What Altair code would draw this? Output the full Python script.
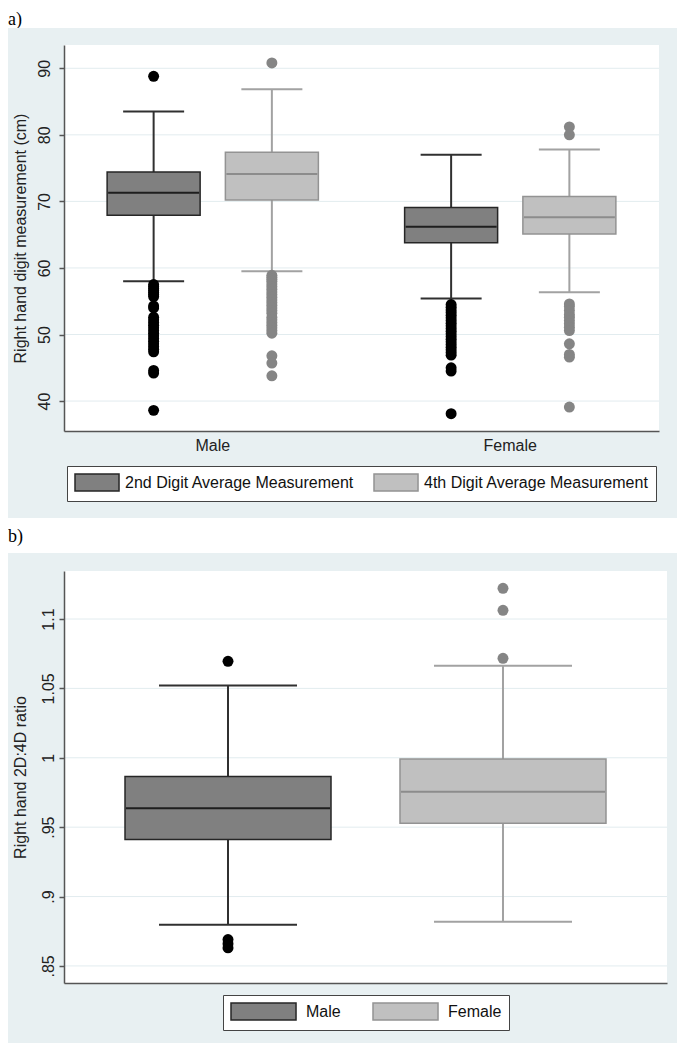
import altair as alt
import pandas as pd

# ---------------- data ----------------
sex_order = ["Male", "Female"]
digit_order = ["2nd Digit Average Measurement", "4th Digit Average Measurement"]

# panel a) summary per box
a_sex = ["Male", "Male", "Female", "Female"]
a_digit = [digit_order[0], digit_order[1], digit_order[0], digit_order[1]]
a_lower = [58.0, 59.5, 55.4, 56.35]
a_q1 = [67.9, 70.2, 63.8, 65.1]
a_median = [71.3, 74.1, 66.2, 67.6]
a_q3 = [74.4, 77.4, 69.1, 70.75]
a_upper = [83.5, 86.85, 77.0, 77.8]

a_out_male_2nd = [88.8, 57.5, 57.2, 56.9, 56.6, 56.3, 56.0, 55.7, 54.3, 54.0, 52.6, 52.2,
                  51.8, 51.4, 51.0, 50.6, 50.2, 49.8, 49.4, 49.0, 48.6, 48.2, 47.8, 47.4,
                  44.6, 44.2, 38.6]
a_out_male_4th = [90.8, 58.9, 58.6, 58.3, 58.0, 57.6, 57.2, 56.8, 56.4, 56.0, 55.6, 55.2,
                  54.8, 54.4, 54.0, 53.6, 53.2, 52.6, 52.2, 51.8, 51.4, 51.0, 50.6, 50.2,
                  46.8, 45.7, 43.8]
a_out_female_2nd = [54.5, 54.1, 53.7, 53.3, 52.9, 52.5, 52.1, 51.7, 51.3, 50.9, 50.5, 50.1,
                    49.7, 49.3, 48.9, 48.5, 48.1, 47.7, 47.3, 46.9, 45.0, 44.5, 38.1]
a_out_female_4th = [81.2, 80.0, 54.6, 54.2, 53.6, 53.0, 52.6, 52.1, 51.6, 51.1, 50.6,
                    48.6, 47.0, 46.6, 39.1]
a_yticks = [40, 50, 60, 70, 80, 90]
a_ydomain = [35.5, 93.5]

# panel b) summary per box
b_sex = ["Male", "Female"]
b_lower = [0.8796, 0.8818]
b_q1 = [0.9412, 0.9529]
b_median = [0.9637, 0.9755]
b_q3 = [0.9865, 0.9991]
b_upper = [1.052, 1.0664]
b_out_male = [1.0695, 0.869, 0.866, 0.863]
b_out_female = [1.1221, 1.1063, 1.0717]
b_yticks = [0.85, 0.9, 0.95, 1.0, 1.05, 1.1]
b_ydomain = [0.8377, 1.1346]

panel_labels = ["a)", "b)"]

# ---------------- tables ----------------
summary_a = pd.DataFrame({"sex": a_sex, "digit": a_digit, "lower": a_lower, "q1": a_q1,
                          "median": a_median, "q3": a_q3, "upper": a_upper})
rows = []
for s, d, vals in [("Male", digit_order[0], a_out_male_2nd), ("Male", digit_order[1], a_out_male_4th),
                   ("Female", digit_order[0], a_out_female_2nd), ("Female", digit_order[1], a_out_female_4th)]:
    for v in vals:
        rows.append({"sex": s, "digit": d, "value": v})
out_a = pd.DataFrame(rows)

summary_b = pd.DataFrame({"sex": b_sex, "lower": b_lower, "q1": b_q1, "median": b_median,
                          "q3": b_q3, "upper": b_upper})
rows = []
for s, vals in [("Male", b_out_male), ("Female", b_out_female)]:
    for v in vals:
        rows.append({"sex": s, "value": v})
out_b = pd.DataFrame(rows)

# ---------------- styles ----------------
FONT = "Liberation Sans"
BG = "#E8F0F2"
GRID = "#E2ECEF"
AXIS = "#555555"
TXT = "#222222"
DARK = {"fill": "#808080", "line": "#303030", "med": "#1e1e1e", "pt": "#000000", "edge": "#262626"}
LIGHT = {"fill": "#C0C0C0", "line": "#a2a2a2", "med": "#8c8c8c", "pt": "#858585", "edge": "#939393"}
one = pd.DataFrame({"k": [0]})


def make_panel(summary, outliers, series_field, series_order, use_offset, W, H, ydom, yticks,
               ytitle, label_expr, label_pad, title_pad, x_outer, sub_outer, box_w, cap_w,
               show_x_labels, legend, bg, label, label_y):
    x_enc = alt.X("sex:N", sort=sex_order,
                  scale=alt.Scale(paddingInner=0, paddingOuter=x_outer),
                  axis=alt.Axis(title=None, labels=show_x_labels, ticks=False, labelAngle=0,
                                labelFontSize=16, labelColor=TXT, labelPadding=6,
                                domainColor=AXIS, domainWidth=1.5, grid=False, zindex=1))
    extra = {}
    if use_offset:
        extra["xOffset"] = alt.XOffset("digit:N", sort=digit_order,
                                       scale=alt.Scale(paddingInner=0, paddingOuter=sub_outer))
    y_axis = alt.Axis(title=ytitle, values=yticks, labelExpr=label_expr, grid=False,
                      labelAngle=270, labelAlign="center", labelBaseline="alphabetic",
                      labelPadding=label_pad, labelFontSize=16, labelColor=TXT,
                      labelOverlap=False, tickSize=5, tickColor=AXIS, tickWidth=1.5,
                      domainColor=AXIS, domainWidth=1.5, titleFontSize=16,
                      titleFontWeight="normal", titleColor=TXT, titlePadding=title_pad,
                      zindex=1)
    y_scale = alt.Scale(domain=ydom, nice=False, zero=False)

    def Y(f):
        return alt.Y(f"{f}:Q", scale=y_scale, axis=y_axis)

    layers = []
    # invisible copy of the panel label that only reserves head-room above it
    layers.append(alt.Chart(one).mark_text(
        text=label, font="Liberation Serif", fontSize=18, align="left", baseline="alphabetic",
        opacity=0).encode(x=alt.value(bg[0]), y=alt.value(label_y - 3)))
    layers.append(alt.Chart(one).mark_text(
        text=label, font="Liberation Serif", fontSize=18, align="left", baseline="alphabetic",
        color="#000000").encode(x=alt.value(bg[0]), y=alt.value(label_y)))
    layers.append(alt.Chart(one).mark_rect(color=BG).encode(
        x=alt.value(bg[0]), x2=alt.value(bg[1]), y=alt.value(bg[2]), y2=alt.value(bg[3])))
    layers.append(alt.Chart(one).mark_rect(color="white").encode(
        x=alt.value(0), x2=alt.value(W), y=alt.value(0), y2=alt.value(H)))
    layers.append(alt.Chart(pd.DataFrame({"tick": yticks})).mark_rule(
        color=GRID, strokeWidth=1).encode(y=Y("tick"), x=alt.value(0), x2=alt.value(W)))

    styles = [DARK, LIGHT]
    for s, st in zip(series_order, styles):
        base = alt.Chart(summary).transform_filter(alt.datum[series_field] == s)
        layers.append(base.mark_rule(color=st["line"], strokeWidth=2).encode(
            x=x_enc, **extra, y=Y("lower"), y2=alt.Y2("upper")))
        layers.append(base.mark_tick(color=st["line"], size=cap_w, thickness=2, opacity=1).encode(
            x=x_enc, **extra, y=Y("lower")))
        layers.append(base.mark_tick(color=st["line"], size=cap_w, thickness=2, opacity=1).encode(
            x=x_enc, **extra, y=Y("upper")))

    fills = [DARK["fill"], LIGHT["fill"]]
    edges = [DARK["edge"], LIGHT["edge"]]
    layers.append(alt.Chart(summary).mark_bar(width=box_w, strokeWidth=1.5, opacity=1).encode(
        x=x_enc, **extra, y=Y("q1"), y2=alt.Y2("q3"),
        fill=alt.Fill(f"{series_field}:N", sort=series_order,
                      scale=alt.Scale(domain=series_order, range=fills), legend=legend),
        stroke=alt.Stroke(f"{series_field}:N", sort=series_order,
                          scale=alt.Scale(domain=series_order, range=edges), legend=legend)))

    for s, st in zip(series_order, styles):
        base = alt.Chart(summary).transform_filter(alt.datum[series_field] == s)
        layers.append(base.mark_tick(color=st["med"], size=box_w - 2, thickness=2, opacity=1).encode(
            x=x_enc, **extra, y=Y("median")))
        pts = alt.Chart(outliers).transform_filter(alt.datum[series_field] == s)
        layers.append(pts.mark_circle(color=st["pt"], size=120, opacity=1).encode(
            x=x_enc, **extra, y=Y("value")))

    return alt.layer(*layers).properties(width=W, height=H)


Wa, Ha = 595, 386
legend_a = alt.Legend(title=None, orient="none", legendX=3, legendY=421, direction="horizontal",
                      symbolType="M-1,-1H4.18V1H-1Z", symbolSize=289, symbolStrokeWidth=1.5,
                      labelFont=FONT, labelFontSize=16, labelColor="#111111", labelOffset=32,
                      labelLimit=0, columnPadding=16, padding=7, fillColor="white",
                      strokeColor="#444444", symbolOpacity=1)
panel_a = make_panel(summary_a, out_a, "digit", digit_order, True, Wa, Ha, a_ydomain, a_yticks,
                     "Right hand digit measurement (cm)", "format(datum.value, 'd')", 10, 8,
                     alt.ExprRef(expr="-0.0388"), 0.258, 93, 61, True, legend_a,
                     (-56, Wa + 18, -17, Ha + 87), panel_labels[0], -20)

Wb, Hb = 603, 412
legend_b = alt.Legend(title=None, orient="none", legendX=159, legendY=424, direction="horizontal",
                      symbolType="M-1,-1H6.65V1H-1Z", symbolSize=289, symbolStrokeWidth=1.5,
                      labelFont=FONT, labelFontSize=16, labelColor="#111111", labelOffset=57,
                      labelLimit=0, columnPadding=29, padding=7, fillColor="white",
                      strokeColor="#444444", symbolOpacity=1)
panel_b = make_panel(summary_b, out_b, "sex", sex_order, False, Wb, Hb, b_ydomain, b_yticks,
                     "Right hand 2D:4D ratio",
                     "datum.value < 1 ? replace(format(datum.value, '~g'), '0.', '.') : format(datum.value, '~g')",
                     5.5, 12.5, 0.0964, 0, 206, 138, False, legend_b, (-56, Wb + 10, -18, Hb + 60),
                     panel_labels[1], -29)

chart = alt.vconcat(panel_a, panel_b, spacing=7).resolve_scale(
    fill="independent", stroke="independent"
).resolve_legend(
    fill="independent", stroke="independent"
).properties(
    background="white", padding=0
).configure(font=FONT).configure_view(stroke=None)

chart.save("out.html", embed_options={"renderer": "svg", "actions": False})
